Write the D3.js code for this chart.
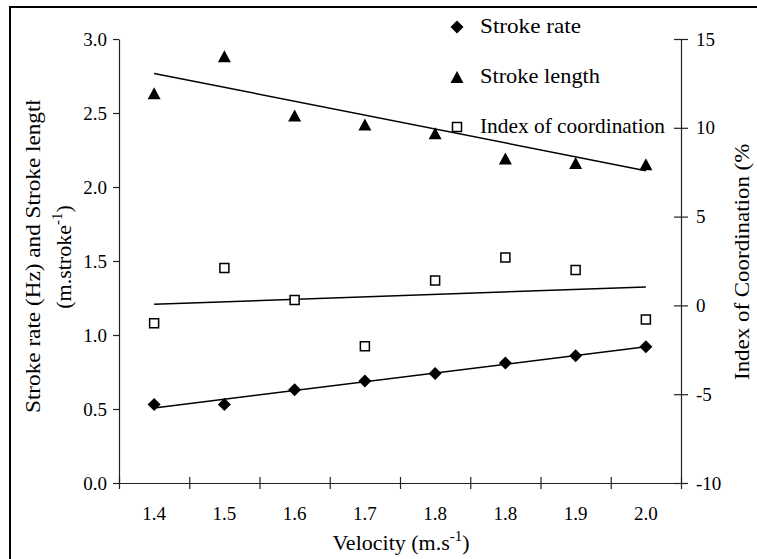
<!DOCTYPE html>
<html>
<head>
<meta charset="utf-8">
<script src="https://cdn.jsdelivr.net/npm/d3@7"></script>
<style>
  html, body { margin: 0; padding: 0; background: #fff; }
  svg { display: block; }
</style>
</head>
<body>
<svg id="chart" width="757" height="559"></svg>
<script>
// Velocity categories (two trials share the 1.8 label)
const velocityLabels = ["1.4", "1.5", "1.6", "1.7", "1.8", "1.8", "1.9", "2.0"];
// Stroke rate (Hz), left axis
const strokeRate = [0.53, 0.53, 0.63, 0.69, 0.74, 0.81, 0.86, 0.92];
// Stroke length (m.stroke-1), left axis
const strokeLength = [2.66, 2.91, 2.51, 2.45, 2.39, 2.22, 2.19, 2.18];
// Index of coordination (%), right axis
const indexCoord = [-1.0, 2.1, 0.3, -2.3, 1.4, 2.7, 2.0, -0.8];
// Axis tick values
const leftTicks = [0, 0.5, 1.0, 1.5, 2.0, 2.5, 3.0];
const rightTicks = [-10, -5, 0, 5, 10, 15];
const legendLabels = ["Stroke rate", "Stroke length", "Index of coordination"];

const FONT = '"Liberation Serif", "Times New Roman", Times, serif';
const svg = d3.select("#chart");
const plot = { left: 119, right: 681, top: 39, bottom: 483 };

// outer frame
svg.append("rect").attr("x", 10).attr("y", 7).attr("width", 800).attr("height", 600)
  .attr("fill", "#fff").attr("stroke", "#000").attr("stroke-width", 2);

const idx = d3.range(velocityLabels.length);
const x = d3.scaleBand().domain(idx).range([plot.left, plot.right]).padding(0);
const xEdge = d3.scaleLinear().domain([0, velocityLabels.length]).range([plot.left, plot.right]);
const yL = d3.scaleLinear().domain([0, 3]).range([plot.bottom, plot.top]);
const yR = d3.scaleLinear().domain([-10, 15]).range([plot.bottom, plot.top]);
const cx = i => x(i) + x.bandwidth() / 2;

// left axis
const gL = svg.append("g").attr("transform", `translate(${plot.left},0)`)
  .call(d3.axisLeft(yL).tickValues(leftTicks).tickFormat(d3.format(".1f"))
    .tickSize(6).tickSizeOuter(0).tickPadding(6));
// right axis with crossing ticks
const gR = svg.append("g").attr("transform", `translate(${plot.right},0)`)
  .call(d3.axisRight(yR).tickValues(rightTicks).tickFormat(d => d < 0 ? "-" + Math.abs(d) : d)
    .tickSize(7).tickSizeOuter(0).tickPadding(8));
gR.selectAll(".tick line").attr("x1", -7);
// bottom axis: boundary ticks crossing the axis line
const gB = svg.append("g").attr("transform", `translate(0,${plot.bottom})`)
  .call(d3.axisBottom(xEdge).tickValues(d3.range(velocityLabels.length + 1))
    .tickFormat("").tickSize(6).tickSizeOuter(0));
gB.selectAll(".tick line").attr("y1", -6);
// bottom category labels
const gBL = svg.append("g").attr("transform", `translate(0,${plot.bottom})`)
  .call(d3.axisBottom(x).tickFormat(i => velocityLabels[i]).tickSize(0).tickPadding(23.5));
gBL.select(".domain").remove();

[gL, gR, gB, gBL].forEach(g => g.attr("font-family", FONT));
[gL, gR, gB].forEach(g => {
  g.select(".domain").attr("stroke", "#222").attr("stroke-width", 1.2);
  g.selectAll(".tick line").attr("stroke", "#222").attr("stroke-width", 1.2);
});
[gL, gR, gBL].forEach(g => g.selectAll(".tick text")
  .attr("font-family", FONT).attr("font-size", 19).attr("fill", "#000"));

// least-squares trend across category positions
function trend(vals) {
  const n = vals.length, xs = d3.range(1, n + 1);
  const mx = d3.mean(xs), my = d3.mean(vals);
  const b = d3.sum(xs, (v, i) => (v - mx) * (vals[i] - my)) / d3.sum(xs, v => (v - mx) ** 2);
  const a = my - b * mx;
  return [[0, a + b * 1], [n - 1, a + b * n]];
}
const line = (ys) => d3.line().x(d => cx(d[0])).y(d => ys(d[1]));
[[strokeLength, yL], [indexCoord, yR], [strokeRate, yL]].forEach(([vals, ys]) => {
  svg.append("path").attr("d", line(ys)(trend(vals)))
    .attr("fill", "none").attr("stroke", "#000").attr("stroke-width", 1.5);
});

// marker shapes; the triangle hangs from its apex just above the data point
const diamond = (r) => `M0,${-r}L${r},0L0,${r}L${-r},0Z`;
const triangle = (w, h) => `M0,-2L${w / 2},${h - 2}L${-w / 2},${h - 2}Z`;
const square = (s) => `M${-s / 2},${-s / 2}h${s}v${s}h${-s}Z`;

function drawDiamond(g, px, py) {
  g.append("path").attr("d", diamond(6.5)).attr("transform", `translate(${px},${py})`).attr("fill", "#000");
}
function drawTriangle(g, px, py) {
  g.append("path").attr("d", triangle(13, 12)).attr("transform", `translate(${px},${py})`).attr("fill", "#000");
}
function drawSquare(g, px, py) {
  g.append("path").attr("d", square(9)).attr("transform", `translate(${px},${py})`)
    .attr("fill", "#fff").attr("stroke", "#000").attr("stroke-width", 1.5);
}

const marks = svg.append("g");
indexCoord.forEach((v, i) => drawSquare(marks, cx(i), yR(v)));
strokeLength.forEach((v, i) => drawTriangle(marks, cx(i), yL(v)));
strokeRate.forEach((v, i) => drawDiamond(marks, cx(i), yL(v)));

// legend
const legendWidths = [101, 120, 185];
const legend = svg.append("g");
const legendY = [27, 72, 127];
legendLabels.forEach((lab, i) => {
  const ly = 27 + i * 50;
  if (i === 0) drawDiamond(legend, 457, ly);
  if (i === 1) drawTriangle(legend, 457, ly - 4);
  if (i === 2) drawSquare(legend, 457, ly);
  legend.append("text").attr("x", 480).attr("y", ly + 6)
    .attr("font-family", FONT).attr("font-size", 22)
    .attr("textLength", legendWidths[i]).attr("lengthAdjust", "spacingAndGlyphs")
    .text(lab);
});

// x axis title
const xt = svg.append("g").attr("transform", "translate(401,550)")
  .append("text").attr("font-family", FONT).attr("font-size", 22).attr("text-anchor", "middle");
xt.append("tspan").text("Velocity (m.s");
xt.append("tspan").attr("font-size", 15).attr("dy", -9).text("-1");
xt.append("tspan").attr("dy", 9).text(")");

// axis titles are clipped by their boxes
const defs = svg.append("defs");
defs.append("clipPath").attr("id", "clipL").attr("clipPathUnits", "userSpaceOnUse")
  .append("rect").attr("x", 12).attr("y", 100).attr("width", 90).attr("height", 450);
defs.append("clipPath").attr("id", "clipR").attr("clipPathUnits", "userSpaceOnUse")
  .append("rect").attr("x", 700).attr("y", 143).attr("width", 57).attr("height", 400);

const lt = svg.append("g").attr("clip-path", "url(#clipL)");
lt.append("text").attr("transform", "translate(40,413) rotate(-90)")
  .attr("font-family", FONT).attr("font-size", 22)
  .attr("textLength", 319).attr("lengthAdjust", "spacingAndGlyphs")
  .text("Stroke rate (Hz) and Stroke length");
const lt2 = lt.append("text").attr("transform", "translate(71,257) rotate(-90)")
  .attr("font-family", FONT).attr("font-size", 22).attr("text-anchor", "middle");
lt2.append("tspan").text("(m.stroke");
lt2.append("tspan").attr("font-size", 15).attr("dy", -9).text("-1");
lt2.append("tspan").attr("dy", 9).text(")");

svg.append("g").attr("clip-path", "url(#clipR)")
  .append("text").attr("transform", "translate(749,380) rotate(-90)")
  .attr("font-family", FONT).attr("font-size", 22)
  .attr("textLength", 244).attr("lengthAdjust", "spacingAndGlyphs")
  .text("Index of Coordination (%)");
</script>
</body>
</html>
